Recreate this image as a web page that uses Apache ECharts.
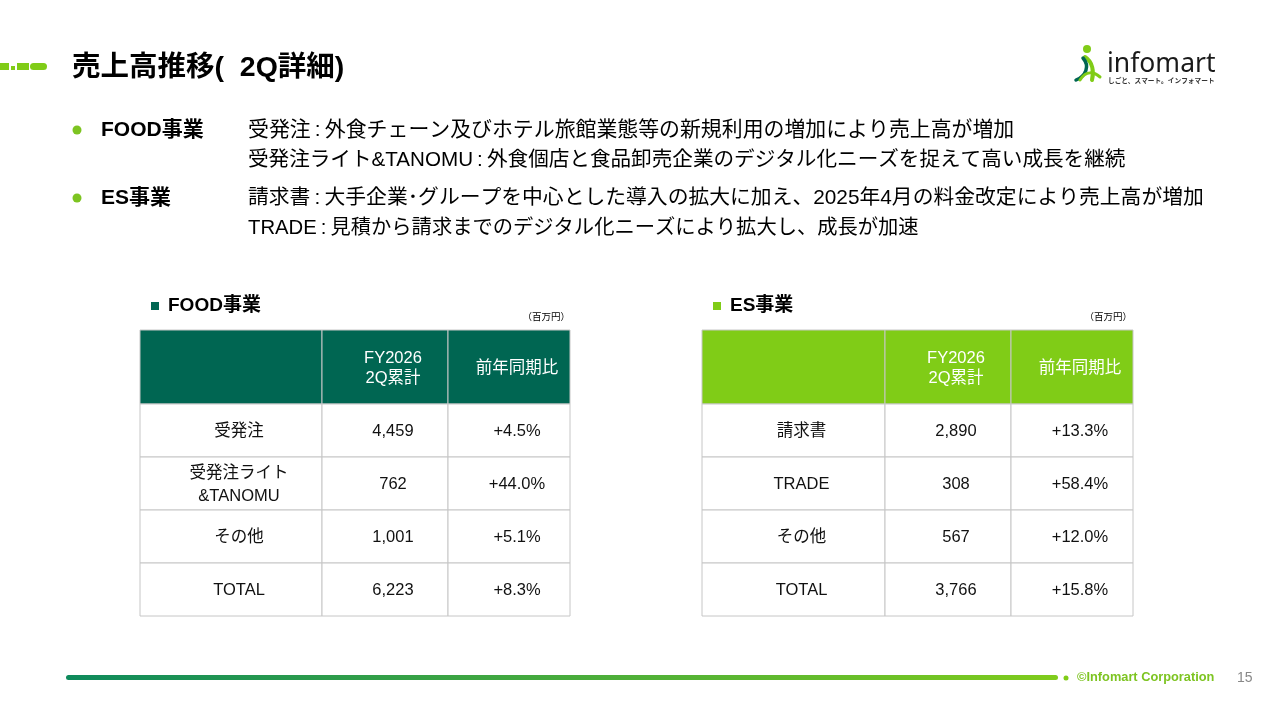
<!DOCTYPE html>
<html>
<head>
<meta charset="utf-8">
<script src="https://cdn.jsdelivr.net/npm/echarts@6/dist/echarts.min.js"></script>
<style>
html, body { margin: 0; padding: 0; background: #fff; }
#main { width: 1280px; height: 720px; }
</style>
</head>
<body>
<div id="main"></div>
<script>
// 表のデータ
var headers = ['', 'FY2026\n2Q累計', '前年同期比'];
var foodItems = ['受発注', '受発注ライト\n&TANOMU', 'その他', 'TOTAL'];
var foodSales = [4459, 762, 1001, 6223];
var foodYoY = [4.5, 44.0, 5.1, 8.3];
var esItems = ['請求書', 'TRADE', 'その他', 'TOTAL'];
var esSales = [2890, 308, 567, 3766];
var esYoY = [13.3, 58.4, 12.0, 15.8];

var FONT = '"Liberation Sans", "Noto Sans CJK JP", sans-serif';
var DARK = '#006652';
var LIME = '#80cc17';
var SEP = '\u2009:\u2009';

// 列・行の境界（レイアウト用）
var foodCols = [0, 182, 308, 430];
var esCols = [0, 183, 309, 431];
var rowEdges = [0, 74, 127, 180, 233, 286];

function fmtSales(v) { return v.toLocaleString('en-US'); }
function fmtYoY(v) { return '+' + v.toFixed(1) + '%'; }

function buildCells(items, sales, yoy) {
  var cells = [];
  var texts = [];
  headers.forEach(function (h, c) { cells.push([c, 0]); texts.push(h); });
  items.forEach(function (name, i) {
    cells.push([0, i + 1]); texts.push(name);
    cells.push([1, i + 1]); texts.push(fmtSales(sales[i]));
    cells.push([2, i + 1]); texts.push(fmtYoY(yoy[i]));
  });
  return { cells: cells, texts: texts };
}

var food = buildCells(foodItems, foodSales, foodYoY);
var es = buildCells(esItems, esSales, esYoY);

function tableSeries(idx, tbl, cols, headColor) {
  return {
    type: 'custom',
    xAxisIndex: idx,
    yAxisIndex: idx,
    data: tbl.cells,
    silent: true,
    renderItem: function (params, api) {
      var c = api.value(0), r = api.value(1);
      var p0 = api.coord([cols[c], rowEdges[r]]);
      var p1 = api.coord([cols[c + 1], rowEdges[r + 1]]);
      var head = r === 0;
      return {
        type: 'group',
        children: [
          {
            type: 'rect',
            shape: { x: p0[0], y: p0[1], width: p1[0] - p0[0], height: p1[1] - p0[1] },
            style: { fill: head ? headColor : '#fff', stroke: '#c6c6c6', lineWidth: 1 }
          },
          {
            type: 'text',
            style: {
              text: tbl.texts[params.dataIndex],
              x: (p0[0] + p1[0]) / 2 + 8,
              y: (p0[1] + p1[1]) / 2 + 1,
              align: 'center',
              verticalAlign: 'middle',
              fontSize: 16.5,
              lineHeight: head ? 20 : 23,
              fontFamily: FONT,
              fill: head ? '#fff' : '#111'
            }
          }
        ]
      };
    }
  };
}

function line(text, y, size) {
  return { type: 'text', style: { text: text, x: 248, y: y, verticalAlign: 'middle', fontSize: size, fontFamily: FONT, fill: '#000' } };
}

var chart = echarts.init(document.getElementById('main'));

var option = {
  backgroundColor: '#fff',
  animation: false,
  grid: [
    { left: 140, top: 330, width: 430, height: 286 },
    { left: 702, top: 330, width: 431, height: 286 }
  ],
  xAxis: [
    { type: 'value', gridIndex: 0, min: 0, max: 430, show: false },
    { type: 'value', gridIndex: 1, min: 0, max: 431, show: false }
  ],
  yAxis: [
    { type: 'value', gridIndex: 0, min: 0, max: 286, inverse: true, show: false },
    { type: 'value', gridIndex: 1, min: 0, max: 286, inverse: true, show: false }
  ],
  series: [
    tableSeries(0, food, foodCols, DARK),
    tableSeries(1, es, esCols, LIME)
  ],
  graphic: [
    // 左上の飾り
    { type: 'rect', shape: { x: 0, y: 63, width: 9, height: 7 }, style: { fill: LIME } },
    { type: 'rect', shape: { x: 11, y: 66, width: 4, height: 4 }, style: { fill: LIME } },
    { type: 'rect', shape: { x: 17, y: 63, width: 12, height: 7 }, style: { fill: LIME } },
    { type: 'rect', shape: { x: 30, y: 63, width: 17, height: 7, r: 3.5 }, style: { fill: LIME } },
    // タイトル
    { type: 'text', style: { text: '売上高推移(  2Q詳細)', x: 72, y: 68, verticalAlign: 'middle', fontSize: 28.5, fontWeight: 'bold', fontFamily: FONT, fill: '#000' } },
    // ロゴ
    { type: 'circle', shape: { cx: 1087, cy: 49, r: 4 }, style: { fill: LIME } },
    { type: 'bezierCurve', shape: { x1: 1085, y1: 57, x2: 1092, y2: 80, cpx1: 1093, cpy1: 62, cpx2: 1094, cpy2: 72 }, style: { stroke: LIME, lineWidth: 4, fill: null, lineCap: 'round' } },
    { type: 'bezierCurve', shape: { x1: 1083, y1: 58, x2: 1076, y2: 80, cpx1: 1090, cpy1: 66, cpx2: 1086, cpy2: 76 }, style: { stroke: DARK, lineWidth: 3.5, fill: null, lineCap: 'round' } },
    { type: 'bezierCurve', shape: { x1: 1080, y1: 80, x2: 1100, y2: 77, cpx1: 1086, cpy1: 70, cpx2: 1094, cpy2: 72 }, style: { stroke: LIME, lineWidth: 3, fill: null, lineCap: 'round' } },
    { type: 'text', style: { text: 'infomart', x: 1107, y: 64, verticalAlign: 'middle', fontSize: 26.5, fontFamily: '"Noto Sans", sans-serif', fill: '#1a1a1a' } },
    { type: 'text', style: { text: 'しごと、スマート。インフォマート', x: 1108, y: 81, verticalAlign: 'middle', fontSize: 6.7, fontWeight: 'bold', fontFamily: FONT, fill: '#333' } },
    // 説明
    { type: 'circle', shape: { cx: 77, cy: 130, r: 4.5 }, style: { fill: '#7dc421' } },
    { type: 'circle', shape: { cx: 77, cy: 198, r: 4.5 }, style: { fill: '#7dc421' } },
    { type: 'text', style: { text: 'FOOD事業', x: 101, y: 130, verticalAlign: 'middle', fontSize: 21, fontWeight: 'bold', fontFamily: FONT, fill: '#000' } },
    { type: 'text', style: { text: 'ES事業', x: 101, y: 198, verticalAlign: 'middle', fontSize: 21, fontWeight: 'bold', fontFamily: FONT, fill: '#000' } },
    line('受発注' + SEP + '外食チェーン及びホテル旅館業態等の新規利用の増加により売上高が増加', 130, 20.9),
    line('受発注ライト&TANOMU' + SEP + '外食個店と食品卸売企業のデジタル化ニーズを捉えて高い成長を継続', 160, 20.6),
    line('請求書' + SEP + '大手企業\uff65グループを中心とした導入の拡大に加え、2025年4月の料金改定により売上高が増加', 198, 20.8),
    line('TRADE' + SEP + '見積から請求までのデジタル化ニーズにより拡大し、成長が加速', 228, 20.3),
    // 表の見出し
    { type: 'rect', shape: { x: 151, y: 302, width: 8, height: 8 }, style: { fill: DARK } },
    { type: 'text', style: { text: 'FOOD事業', x: 168, y: 306, verticalAlign: 'middle', fontSize: 19, fontWeight: 'bold', fontFamily: FONT, fill: '#000' } },
    { type: 'text', style: { text: '（百万円）', x: 570, y: 317, align: 'right', verticalAlign: 'middle', fontSize: 9.5, fontFamily: FONT, fill: '#000' } },
    { type: 'rect', shape: { x: 713, y: 302, width: 8, height: 8 }, style: { fill: LIME } },
    { type: 'text', style: { text: 'ES事業', x: 730, y: 306, verticalAlign: 'middle', fontSize: 19, fontWeight: 'bold', fontFamily: FONT, fill: '#000' } },
    { type: 'text', style: { text: '（百万円）', x: 1132, y: 317, align: 'right', verticalAlign: 'middle', fontSize: 9.5, fontFamily: FONT, fill: '#000' } },
    // フッター
    {
      type: 'rect', shape: { x: 66, y: 675, width: 992, height: 5, r: 2.5 },
      style: { fill: new echarts.graphic.LinearGradient(0, 0, 1, 0, [{ offset: 0, color: '#0e8a5c' }, { offset: 1, color: '#80cc1c' }]) }
    },
    { type: 'circle', shape: { cx: 1066, cy: 678, r: 2.5 }, style: { fill: LIME } },
    { type: 'text', style: { text: '©Infomart Corporation', x: 1077, y: 677, verticalAlign: 'middle', fontSize: 12.8, fontWeight: 'bold', fontFamily: FONT, fill: '#7dc421' } },
    { type: 'text', style: { text: '15', x: 1237, y: 678, verticalAlign: 'middle', fontSize: 14, fontFamily: FONT, fill: '#888' } }
  ]
};

chart.setOption(option);
</script>
</body>
</html>
